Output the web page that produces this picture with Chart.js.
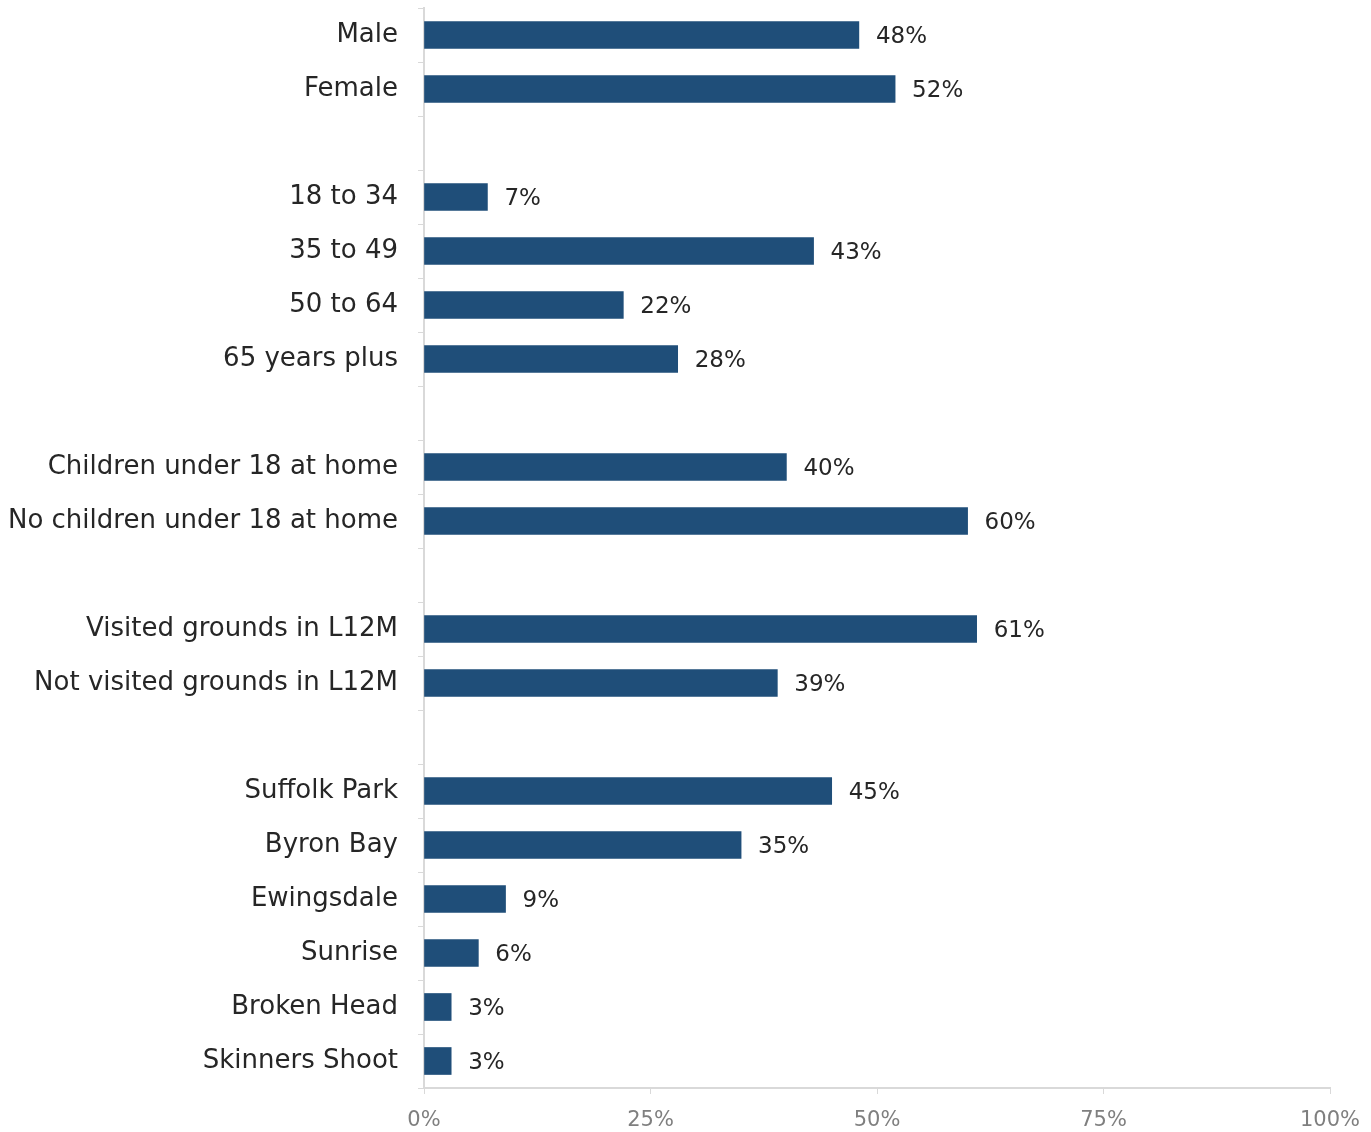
<!DOCTYPE html>
<html>
<head>
<meta charset="utf-8">
<script src="https://cdn.jsdelivr.net/npm/chart.js@4"></script>
<style>
  html, body { margin: 0; padding: 0; background: #fff; }
  #wrap { width: 1371px; height: 1132px; }
</style>
</head>
<body>
<div id="wrap"><canvas id="chartProfile"></canvas></div>
<script>
const categories = [
    'Male', 'Female', '',
    '18 to 34', '35 to 49', '50 to 64', '65 years plus', '',
    'Children under 18 at home', 'No children under 18 at home', '',
    'Visited grounds in L12M', 'Not visited grounds in L12M', '',
    'Suffolk Park', 'Byron Bay', 'Ewingsdale', 'Sunrise', 'Broken Head', 'Skinners Shoot'
];
const values = [
    48, 52, null,
    7, 43, 22, 28, null,
    40, 60, null,
    61, 39, null,
    45, 35, 9, 6, 3, 3
];
const xTicks = [0, 25, 50, 75, 100];

const FONT = 'DejaVu Sans';

const valueLabels = {
    id: 'valueLabels',
    afterDatasetsDraw(chart) {
        const ctx = chart.ctx;
        const meta = chart.getDatasetMeta(0);
        ctx.save();
        ctx.font = '23px "' + FONT + '"';
        ctx.fillStyle = '#262626';
        ctx.textAlign = 'left';
        ctx.textBaseline = 'middle';
        meta.data.forEach(function (bar, i) {
            if (values[i] === null) return;
            ctx.fillText(values[i] + '%', bar.x + 17, bar.y + 2);
        });
        ctx.restore();
    }
};

function DrawChartProfile() {
    const data = {
        labels: categories,
        datasets: [
            {
                data: values,
                backgroundColor: '#1F4E79',
                barThickness: 27
            }
        ]
    };
    const config = {
        type: 'bar',
        data: data,
        options: {
            indexAxis: 'y',
            responsive: true,
            maintainAspectRatio: false,
            animation: false,
            layout: { padding: { top: 8, right: 41, left: 0, bottom: 0 } },
            plugins: {
                legend: { display: false },
                tooltip: { enabled: false }
            },
            scales: {
                x: {
                    min: 0,
                    max: 100,
                    afterBuildTicks: function (axis) {
                        axis.ticks = xTicks.map(function (v) { return { value: v }; });
                    },
                    afterFit: function (axis) {
                        axis.height = 44;
                        axis.paddingLeft = 0;
                        axis.paddingRight = 0;
                    },
                    grid: {
                        drawOnChartArea: false,
                        drawTicks: true,
                        tickLength: 6,
                        color: '#d9d9d9'
                    },
                    border: { color: '#d9d9d9', width: 2 },
                    ticks: {
                        color: '#7f7f7f',
                        font: { family: FONT, size: 21 },
                        padding: 14,
                        callback: function (v) { return v + '%'; }
                    }
                },
                y: {
                    afterFit: function (axis) {
                        axis.width = 424;
                        axis.paddingTop = 0;
                        axis.paddingBottom = 0;
                    },
                    grid: {
                        offset: true,
                        drawOnChartArea: false,
                        drawTicks: true,
                        tickLength: 6,
                        color: '#d9d9d9'
                    },
                    border: { color: '#d9d9d9', width: 2 },
                    ticks: {
                        color: '#262626',
                        font: { family: FONT, size: 26 },
                        padding: 20,
                        autoSkip: false
                    }
                }
            }
        },
        plugins: [valueLabels]
    };

    const ctx = document.getElementById('chartProfile');
    new Chart(ctx, config);
}

DrawChartProfile();
</script>
</body>
</html>
